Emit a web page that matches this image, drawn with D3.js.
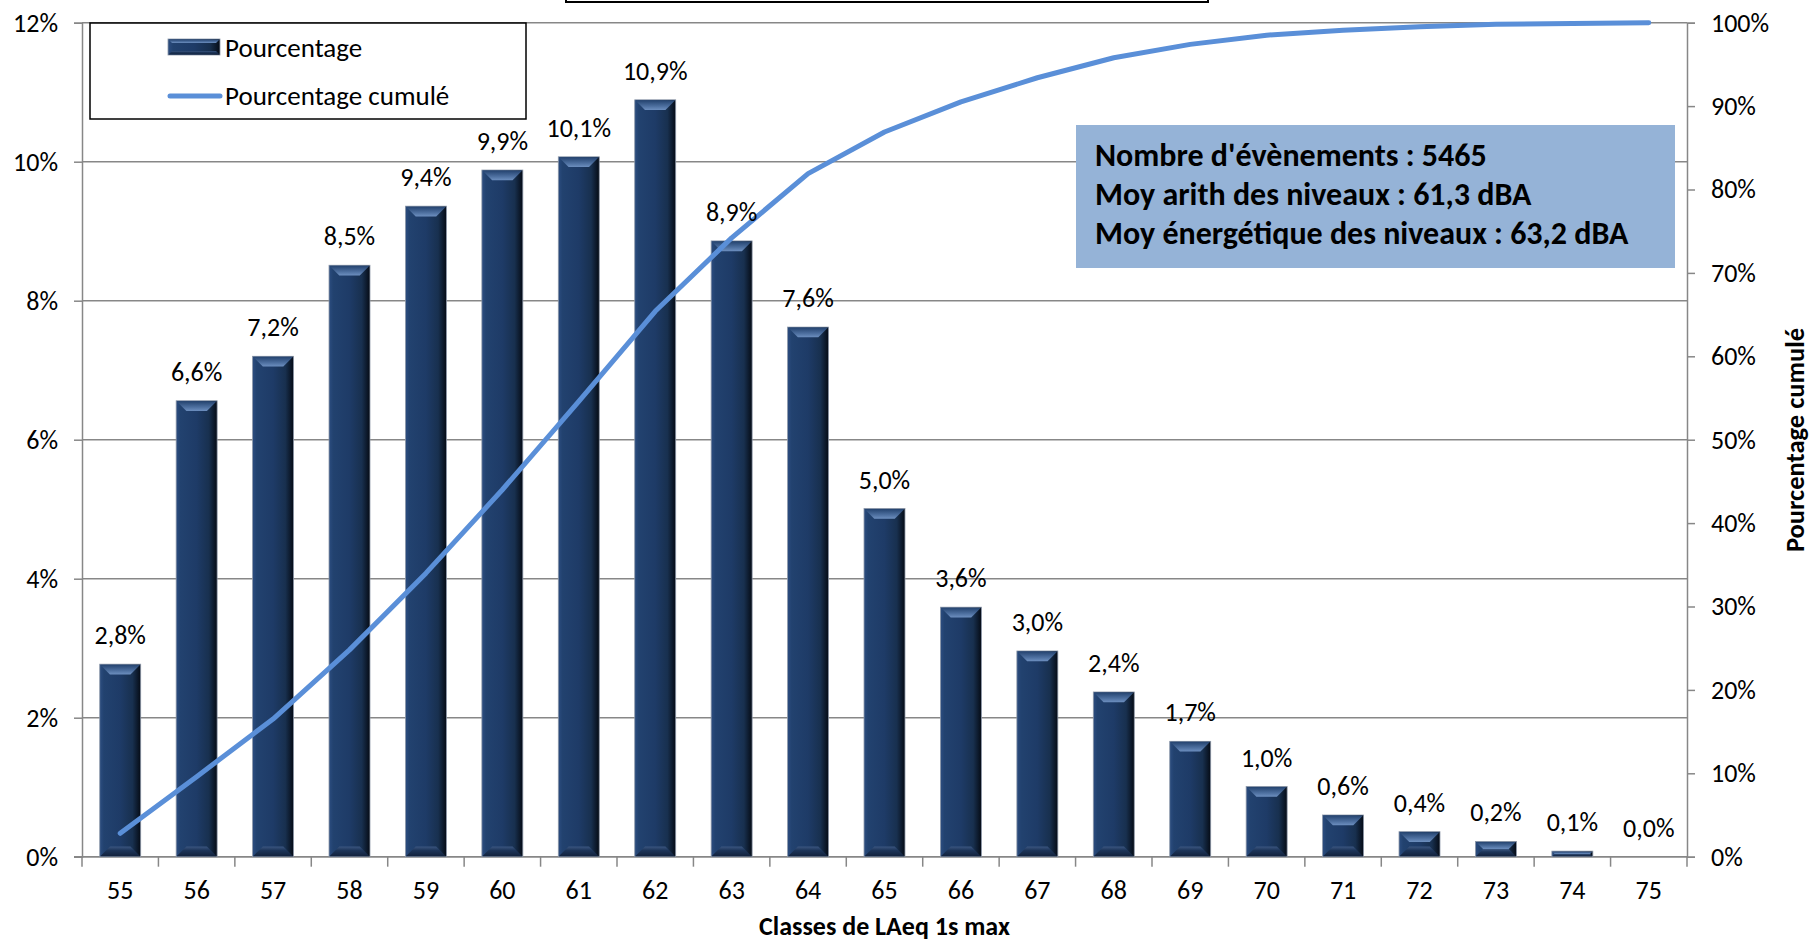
<!DOCTYPE html>
<html>
<head>
<meta charset="utf-8">
<script src="https://cdn.jsdelivr.net/npm/d3@7"></script>
<style>
  html, body { margin: 0; padding: 0; background: #ffffff; }
  svg { display: block; }
  text { font-family: Carlito, Calibri, Lato, "Open Sans", sans-serif; fill: #000; }
</style>
</head>
<body>
<svg id="chart" width="1812" height="944"></svg>
<script>
// ---------- data ----------
const categories = ["55","56","57","58","59","60","61","62","63","64","65","66","67","68","69","70","71","72","73","74","75"];
const pourcentage = [2.77, 6.56, 7.20, 8.51, 9.36, 9.88, 10.07, 10.89, 8.86, 7.62, 5.01, 3.59, 2.96, 2.37, 1.66, 1.01, 0.60, 0.36, 0.22, 0.08, 0.0];
const pourcentageCumule = [2.8, 9.6, 16.5, 24.8, 34.0, 44.0, 54.6, 65.4, 74.2, 81.9, 86.9, 90.5, 93.4, 95.8, 97.4, 98.5, 99.1, 99.5, 99.8, 99.9, 100.0];
const leftTicks = [0, 2, 4, 6, 8, 10, 12];
const rightTicks = [0, 10, 20, 30, 40, 50, 60, 70, 80, 90, 100];
const seriesNames = ["Pourcentage", "Pourcentage cumulé"];
const infoLines = ["Nombre d'évènements : 5465", "Moy arith des niveaux : 61,3 dBA", "Moy énergétique des niveaux : 63,2 dBA"];
const xTitle = "Classes de LAeq 1s max";
const yRightTitle = "Pourcentage cumulé";

// ---------- layout ----------
const plot = { left: 82, right: 1687, top: 22.7, bottom: 856.7 };
const svg = d3.select("#chart");
const gridColor = "#878787";
const frFmt = v => d3.format(".1f")(v).replace(".", ",") + "%";

const x = d3.scaleBand().domain(categories).range([plot.left, plot.right])
  .paddingInner(0.464).paddingOuter(0.232);
const yL = d3.scaleLinear().domain([0, 12]).range([plot.bottom, plot.top]);
const yR = d3.scaleLinear().domain([0, 100]).range([plot.bottom, plot.top]);

// ---------- gradients ----------
const defs = svg.append("defs");
const body = defs.append("linearGradient").attr("id", "barBody").attr("x1", 0).attr("x2", 1).attr("y1", 0).attr("y2", 0);
[["0%", "#2c4d80"], ["10%", "#22426f"], ["50%", "#1e3b67"], ["80%", "#18304f"], ["100%", "#050b15"]]
  .forEach(([o, c]) => body.append("stop").attr("offset", o).attr("stop-color", c));
const topG = defs.append("linearGradient").attr("id", "barTop").attr("x1", 0).attr("x2", 0).attr("y1", 0).attr("y2", 1);
[["0%", "#24436f"], ["60%", "#4d6f9f"], ["100%", "#6d8fbf"]]
  .forEach(([o, c]) => topG.append("stop").attr("offset", o).attr("stop-color", c));
const botG = defs.append("linearGradient").attr("id", "barBot").attr("x1", 0).attr("x2", 0).attr("y1", 0).attr("y2", 1);
[["0%", "#3b5680"], ["40%", "#1d3559"], ["100%", "#12223d"]]
  .forEach(([o, c]) => botG.append("stop").attr("offset", o).attr("stop-color", c));

function bevelBar(g, x0, y0, w, h, maxB) {
  if (h <= 0) return;
  const x1 = x0 + w, yb = y0 + h;
  const b = Math.min(maxB, h / 2, w / 4);
  g.append("rect").attr("x", x0).attr("y", y0).attr("width", w).attr("height", h)
    .attr("fill", "url(#barBody)").attr("stroke", "#8c97a8").attr("stroke-width", 0.8);
  g.append("path").attr("d", `M${x0 + 0.5},${y0 + 0.5}L${x1 - 0.5},${y0 + 0.5}L${x1 - b},${y0 + b}L${x0 + b},${y0 + b}Z`)
    .attr("fill", "url(#barTop)");
  g.append("path").attr("d", `M${x0 + 0.5},${yb - 0.5}L${x1 - 0.5},${yb - 0.5}L${x1 - b},${yb - b}L${x0 + b},${yb - b}Z`)
    .attr("fill", "url(#barBot)");
}

// ---------- top (clipped) title frame ----------
svg.append("rect").attr("x", 566).attr("y", -20).attr("width", 642).attr("height", 22)
  .attr("fill", "#fff").attr("stroke", "#000").attr("stroke-width", 2);

// ---------- gridlines ----------
svg.append("g").selectAll("line").data(leftTicks).join("line")
  .attr("x1", plot.left).attr("x2", plot.right)
  .attr("y1", d => yL(d)).attr("y2", d => yL(d))
  .attr("stroke", gridColor).attr("stroke-width", 1.5);

// ---------- axes ----------
const axL = svg.append("g").attr("transform", `translate(${plot.left},0)`)
  .call(d3.axisLeft(yL).tickValues(leftTicks).tickSize(8).tickPadding(16).tickFormat(d => d + "%"));
const axR = svg.append("g").attr("transform", `translate(${plot.right},0)`)
  .call(d3.axisRight(yR).tickValues(rightTicks).tickSize(8).tickPadding(16).tickFormat(d => d + "%"));
const axB = svg.append("g").attr("transform", `translate(0,${plot.bottom})`)
  .call(d3.axisBottom(x).tickSize(0).tickPadding(24));
[axL, axR, axB].forEach(a => {
  a.selectAll(".domain").attr("stroke", gridColor).attr("stroke-width", 1.5);
  a.selectAll(".tick line").attr("stroke", gridColor).attr("stroke-width", 1.5);
  a.selectAll("text").attr("font-family", "Carlito, Calibri, Lato, sans-serif").attr("font-size", 26).attr("fill", "#000");
});
axB.select(".domain").remove();
svg.append("line").attr("x1", plot.left - 8).attr("x2", plot.right).attr("y1", plot.bottom).attr("y2", plot.bottom)
  .attr("stroke", gridColor).attr("stroke-width", 1.5);
// category boundary ticks
const half = (x.step() - x.bandwidth()) / 2;
const bounds = categories.map(c => x(c) - half).concat([x(categories[categories.length - 1]) + x.bandwidth() + half]);
svg.append("g").selectAll("line").data(bounds).join("line")
  .attr("x1", d => d).attr("x2", d => d).attr("y1", plot.bottom).attr("y2", plot.bottom + 10)
  .attr("stroke", gridColor).attr("stroke-width", 1.5);

// ---------- bars ----------
const barsG = svg.append("g");
categories.forEach((c, i) => {
  const v = pourcentage[i];
  bevelBar(barsG.append("g"), x(c), yL(v), x.bandwidth(), yL(0) - yL(v), 11);
});

// ---------- cumulative line ----------
const line = d3.line().x((d, i) => x(categories[i]) + x.bandwidth() / 2).y(d => yR(d));
svg.append("path").attr("d", line(pourcentageCumule))
  .attr("fill", "none").attr("stroke", "#5a8fd8").attr("stroke-width", 5)
  .attr("stroke-linecap", "round").attr("stroke-linejoin", "round");

// ---------- data labels ----------
svg.append("g").selectAll("text").data(pourcentage).join("text")
  .attr("x", (d, i) => x(categories[i]) + x.bandwidth() / 2)
  .attr("y", d => yL(d) - 20)
  .attr("text-anchor", "middle").attr("font-size", 26)
  .text(d => frFmt(d));

// ---------- legend ----------
const lg = svg.append("g");
lg.append("rect").attr("x", 90).attr("y", 23).attr("width", 436).attr("height", 96)
  .attr("fill", "#fff").attr("stroke", "#000").attr("stroke-width", 1.5);
bevelBar(lg.append("g"), 168, 39, 52, 16, 4);
lg.append("line").attr("x1", 170).attr("x2", 220).attr("y1", 96).attr("y2", 96)
  .attr("stroke", "#5a8fd8").attr("stroke-width", 5).attr("stroke-linecap", "round");
lg.append("text").attr("x", 225).attr("y", 57).attr("font-size", 27).text(seriesNames[0]);
lg.append("text").attr("x", 225).attr("y", 105).attr("font-size", 27).text(seriesNames[1]);

// ---------- info box ----------
svg.append("rect").attr("x", 1076).attr("y", 125).attr("width", 599).attr("height", 143).attr("fill", "#95b3d7");
svg.append("g").selectAll("text").data(infoLines).join("text")
  .attr("x", 1095).attr("y", (d, i) => 166 + i * 39)
  .attr("font-size", 32).attr("font-weight", "bold").text(d => d);

// ---------- axis titles ----------
svg.append("text").attr("x", (plot.left + plot.right) / 2).attr("y", 935)
  .attr("text-anchor", "middle").attr("font-size", 26).attr("font-weight", "bold").text(xTitle);
svg.append("text").attr("transform", "translate(1804,440) rotate(-90)")
  .attr("text-anchor", "middle").attr("font-size", 26.5).attr("font-weight", "bold").text(yRightTitle);
</script>
</body>
</html>
